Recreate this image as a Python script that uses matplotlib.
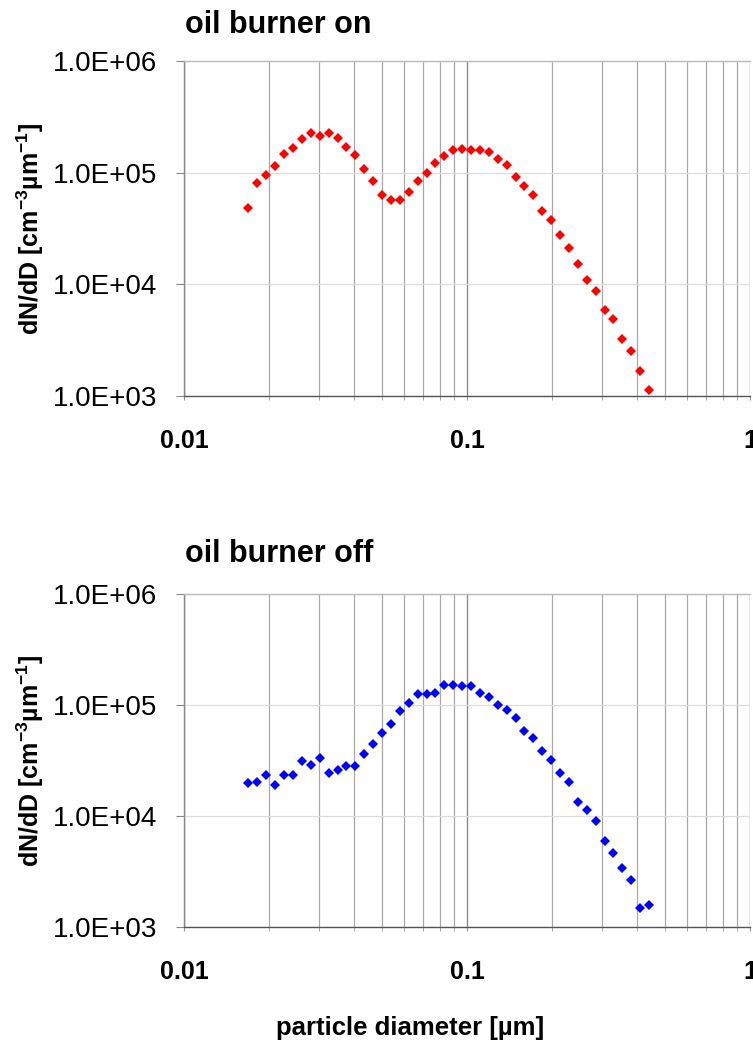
import matplotlib
matplotlib.use("Agg")
import matplotlib.pyplot as plt
from matplotlib.ticker import LogLocator, FuncFormatter, NullFormatter, NullLocator

# particle diameters (um), SMPS channel midpoints
diameters_um = [0.01690, 0.01817, 0.01953, 0.02100, 0.02258, 0.02427, 0.02610, 0.02806,
                0.03016, 0.03243, 0.03487, 0.03749, 0.04030, 0.04333, 0.04658, 0.05008,
                0.05384, 0.05789, 0.06224, 0.06691, 0.07194, 0.07734, 0.08315, 0.08940,
                0.09611, 0.1033, 0.1111, 0.1194, 0.1284, 0.1381, 0.1484, 0.1596,
                0.1716, 0.1845, 0.1983, 0.2132, 0.2292, 0.2465, 0.2650, 0.2849,
                0.3063, 0.3293, 0.3540, 0.3806, 0.4092, 0.4399]

# dN/dD [cm-3 um-1]
burner_on = [48500, 81200, 94600, 115000, 146000, 168000, 199000, 226000,
             213000, 228000, 205000, 171000, 144000, 108000, 84100, 62600,
             57200, 57200, 66700, 84100, 98800, 123000, 141000, 159000,
             163000, 159000, 158000, 153000, 132000, 116000, 91900, 75900,
             62600, 45600, 37600, 27600, 21000, 15100, 10900, 8690,
             5910, 4910, 3210, 2540, 1660, 1130]

burner_off = [19800, 20400, 23400, 19100, 23400, 23200, 31200, 29100,
              33200, 24600, 25700, 28300, 28300, 36500, 44400, 55800,
              67600, 87600, 104000, 126000, 126000, 129000, 151000, 151000,
              148000, 149000, 129000, 118000, 100000, 90900, 77000, 58800,
              50600, 38900, 32100, 24600, 20300, 13300, 11400, 9050,
              5940, 4640, 3420, 2650, 1470, 1580]

titles = ["oil burner on", "oil burner off"]
colors = ["#ff0000", "#0000ff"]
x_ticks = [0.01, 0.1, 1]
x_ticklabels = ["0.01", "0.1", "1"]
y_ticks = [1e3, 1e4, 1e5, 1e6]

plt.rcParams["font.family"] = ["Liberation Sans", "DejaVu Sans"]
plt.rcParams["mathtext.fontset"] = "custom"
plt.rcParams["mathtext.rm"] = "Liberation Sans"
plt.rcParams["mathtext.bf"] = "Liberation Sans:bold"


def style_axis(ax):
    ax.set_xscale("log")
    ax.set_yscale("log")
    ax.set_xlim(0.01, 1)
    ax.set_ylim(1e3, 1e6)

    ax.set_xticks(x_ticks)
    ax.set_xticklabels(x_ticklabels, fontsize=18, fontweight="bold")
    ax.xaxis.set_minor_locator(LogLocator(base=10, subs=range(2, 10)))
    ax.xaxis.set_minor_formatter(NullFormatter())
    ax.tick_params(axis="x", which="both", direction="out", length=3,
                   color="#999999", pad=21)

    ax.set_yticks(y_ticks)
    ax.yaxis.set_major_formatter(FuncFormatter(lambda v, p: f"{v:.1E}"))
    ax.yaxis.set_minor_locator(NullLocator())
    ax.tick_params(axis="y", which="major", direction="out", length=6,
                   color="#888888", labelsize=20, pad=13)

    ax.grid(True, axis="x", which="minor", color="#a8a8a8", linewidth=0.9)
    ax.grid(True, axis="x", which="major", color="#8c8c8c", linewidth=1.0)
    ax.grid(True, axis="y", which="major", color="#dddddd", linewidth=0.9)
    ax.set_axisbelow(True)

    ax.spines["right"].set_visible(False)
    ax.spines["top"].set_color("#bbbbbb")
    ax.spines["left"].set_color("#888888")
    ax.spines["bottom"].set_color("#555555")
    for s in ax.spines.values():
        s.set_linewidth(1.0)


def main():
    fig = plt.figure(figsize=(7.53, 10.44), dpi=100)
    W, H = 753, 1044
    # axes boxes in pixels: (left, top, right, bottom)
    boxes = [(184, 61, 750, 396), (184, 594, 750, 927)]
    title_base = [33, 562]
    series = [burner_on, burner_off]

    for i, (l, t, r, b) in enumerate(boxes):
        ax = fig.add_axes([l / W, 1 - b / H, (r - l) / W, (b - t) / H])
        style_axis(ax)
        ax.plot(diameters_um, series[i], linestyle="none", marker="D",
                markersize=5.5, markeredgewidth=0, color=colors[i], clip_on=False)
        fig.text(185 / W, 1 - title_base[i] / H, titles[i], fontsize=22,
                 fontweight="bold", ha="left", va="baseline")
        fig.text(30 / W, 1 - (t + b) / 2 / H,
                 r"dN/dD [cm$^{\mathbf{-3}}$µm$^{\mathbf{-1}}$]",
                 rotation=90, fontsize=18, fontweight="bold",
                 ha="center", va="center")

    fig.text(410 / W, 1 - 1035 / H, "particle diameter [µm]", fontsize=18.5,
             fontweight="bold", ha="center", va="baseline")

    fig.savefig("out.png", dpi=100)
    plt.close(fig)


if __name__ == "__main__":
    main()
